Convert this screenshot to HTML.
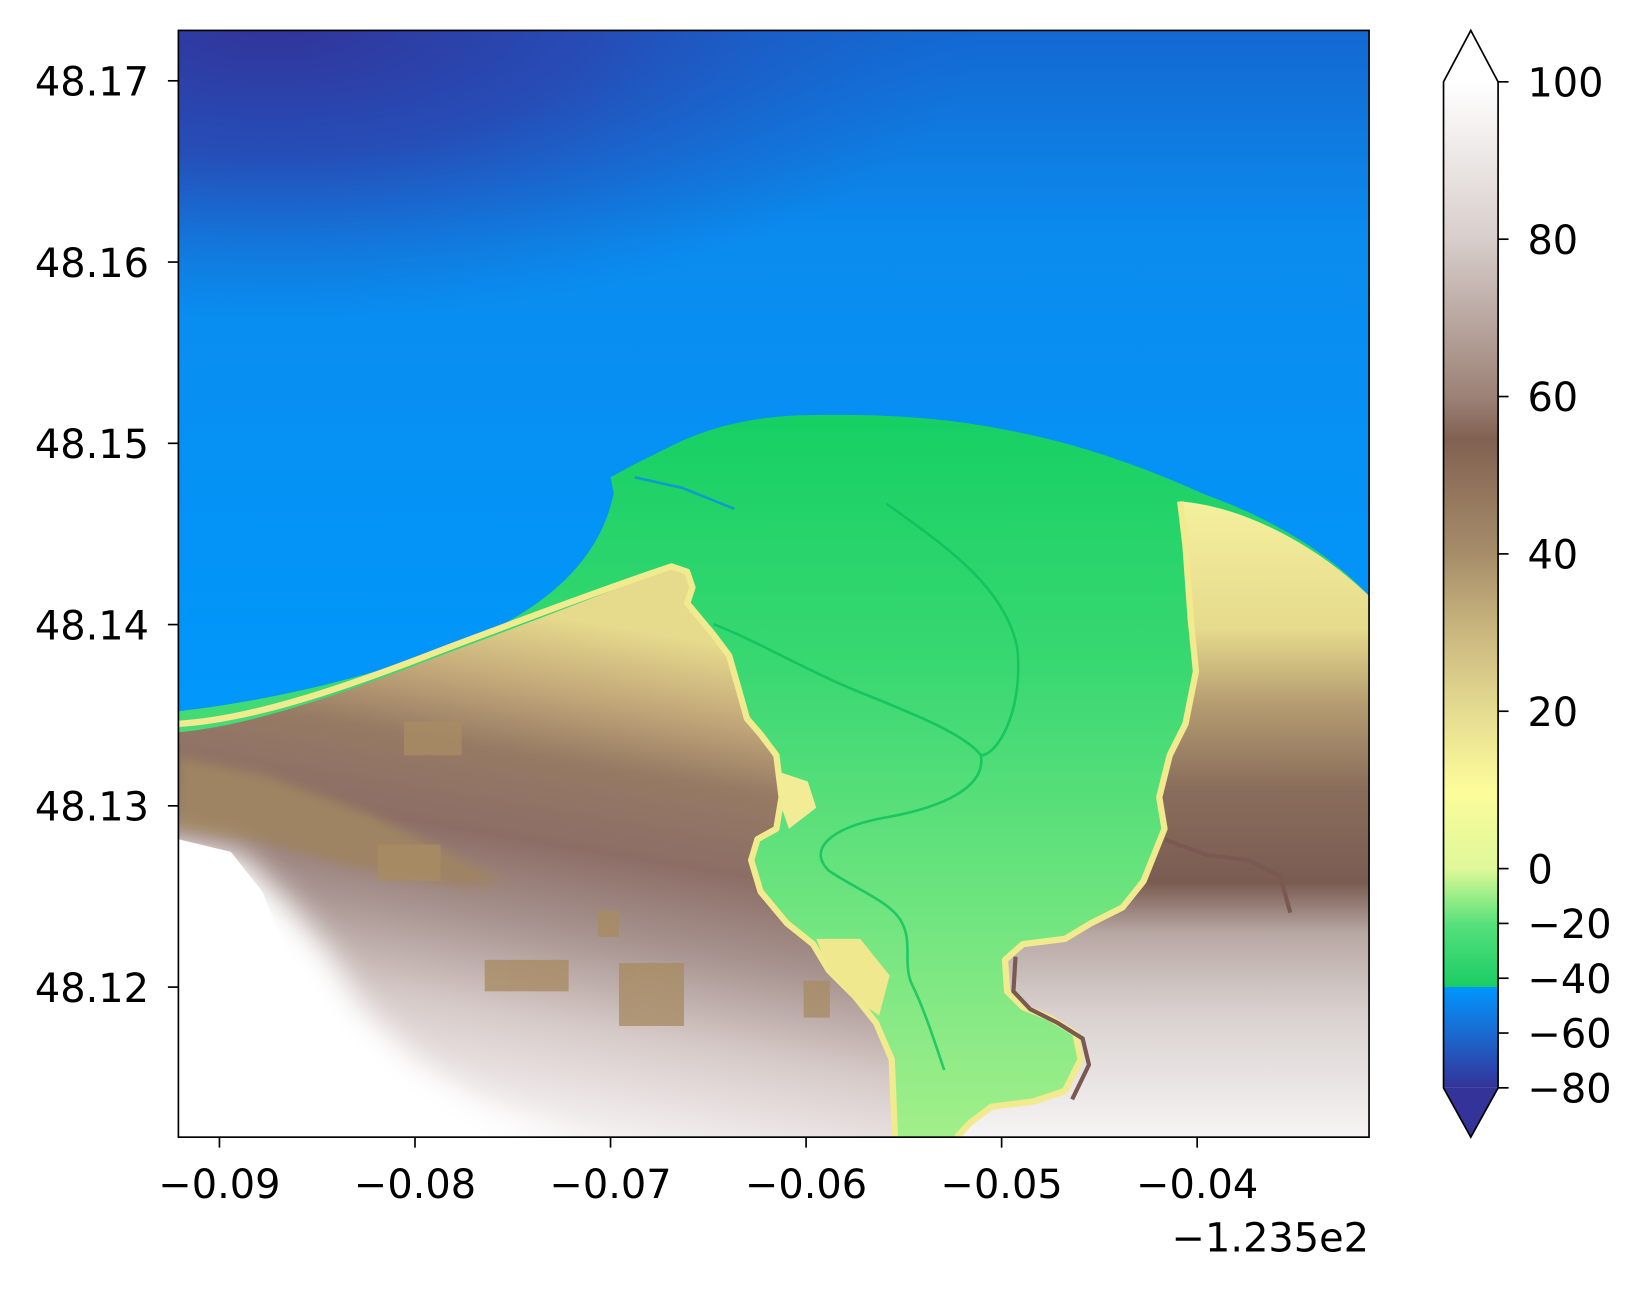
<!DOCTYPE html>
<html><head><meta charset="utf-8">
<style>
html,body{margin:0;padding:0;background:#fff;}
svg{display:block;font-family:"DejaVu Sans","Liberation Sans",sans-serif;}
</style></head>
<body>
<svg id="chart" width="1645" height="1290" viewBox="0 0 1568 1229.7" xmlns="http://www.w3.org/2000/svg">
<defs>
  <clipPath id="plotclip"><rect x="170" y="29" width="1135" height="1055"/></clipPath>
  <filter id="blur20" x="-20%" y="-20%" width="140%" height="140%"><feGaussianBlur stdDeviation="14"/></filter>
  <filter id="blur5" x="-20%" y="-20%" width="140%" height="140%"><feGaussianBlur stdDeviation="5"/></filter>
  <linearGradient id="waterV" x1="0" y1="29" x2="0" y2="700" gradientUnits="userSpaceOnUse">
    <stop offset="0" stop-color="#1468d2"/>
    <stop offset="0.3" stop-color="#0a8cee"/>
    <stop offset="1" stop-color="#0098fc"/>
  </linearGradient>
  <radialGradient id="waterDark" cx="260" cy="20" r="520" gradientUnits="userSpaceOnUse" gradientTransform="translate(260 20) scale(1.3 0.55) translate(-260 -20)">
    <stop offset="0" stop-color="#323399" stop-opacity="1"/>
    <stop offset="0.45" stop-color="#2a46b0" stop-opacity="0.85"/>
    <stop offset="1" stop-color="#1a60c8" stop-opacity="0"/>
  </radialGradient>
  <linearGradient id="greenG" x1="0" y1="400" x2="0" y2="1084" gradientUnits="userSpaceOnUse">
    <stop offset="0" stop-color="#16d064"/>
    <stop offset="0.35" stop-color="#3ad872"/>
    <stop offset="0.7" stop-color="#72e580"/>
    <stop offset="1" stop-color="#a2ef8a"/>
  </linearGradient>
  <linearGradient id="landL" x1="540" y1="590" x2="460" y2="1060" gradientUnits="userSpaceOnUse">
    <stop offset="0" stop-color="#e6da8c"/>
    <stop offset="0.14" stop-color="#c4aa7a"/>
    <stop offset="0.28" stop-color="#967a64"/>
    <stop offset="0.45" stop-color="#8c6e66"/>
    <stop offset="0.62" stop-color="#a89490"/>
    <stop offset="0.8" stop-color="#d6cac8"/>
    <stop offset="1" stop-color="#f4f0f0"/>
  </linearGradient>
  <linearGradient id="landR" x1="0" y1="478" x2="0" y2="1084" gradientUnits="userSpaceOnUse">
    <stop offset="0" stop-color="#f4f09e"/>
    <stop offset="0.2" stop-color="#e6da8c"/>
    <stop offset="0.32" stop-color="#b49c70"/>
    <stop offset="0.45" stop-color="#8a6e5c"/>
    <stop offset="0.6" stop-color="#7a5c52"/>
    <stop offset="0.68" stop-color="#b8a8a4"/>
    <stop offset="0.8" stop-color="#d8d0ce"/>
    <stop offset="1" stop-color="#f6f4f4"/>
  </linearGradient>
  <linearGradient id="cbarG" x1="0" y1="78" x2="0" y2="1037" gradientUnits="userSpaceOnUse">
    <stop offset="0" stop-color="#ffffff"/>
    <stop offset="0.156" stop-color="#d8cecb"/>
    <stop offset="0.313" stop-color="#9c8277"/>
    <stop offset="0.355" stop-color="#816152"/>
    <stop offset="0.469" stop-color="#a68d69"/>
    <stop offset="0.545" stop-color="#c9b67e"/>
    <stop offset="0.625" stop-color="#e5db91"/>
    <stop offset="0.704" stop-color="#fcfc9a"/>
    <stop offset="0.782" stop-color="#dff89a"/>
    <stop offset="0.81" stop-color="#99ee88"/>
    <stop offset="0.838" stop-color="#55e07a"/>
    <stop offset="0.9" stop-color="#1acc66"/>
    <stop offset="0.9" stop-color="#0096ff"/>
    <stop offset="0.95" stop-color="#1c66cc"/>
    <stop offset="1" stop-color="#333399"/>
  </linearGradient>
</defs>

<g clip-path="url(#plotclip)">
  <rect x="170" y="29" width="1135" height="1055" fill="url(#waterV)"/>
  <rect x="170" y="29" width="1135" height="500" fill="url(#waterDark)"/>
  <path fill="url(#greenG)"
    d="M170,678 C260,668 380,640 470,600 C540,565 575,520 585,470 L582,455 L600,445 L640,425 C680,405 720,398 760,396 C840,394 900,398 960,410 C1040,425 1100,450 1150,472 C1200,490 1260,520 1305,568 L1305,1084 L170,1084 Z"/>
  <path fill="url(#landL)"
    d="M170,698 C240,692 330,660 420,625 C500,595 580,565 640,540 L655,545 L660,560 L655,575 L680,605 L695,625 L705,660 L712,685 L725,700 L740,720 L745,760 L740,790 L722,800 L716,820 L725,850 L750,880 L775,900 L790,925 L815,950 L835,975 L850,1010 L853,1084 L170,1084 Z"/>
  <path fill="#9e8462" filter="url(#blur5)"
    d="M170,722 L250,738 L350,775 L430,815 L480,840 L440,845 L330,825 L250,802 L170,792 Z"/>
  <path fill="#ffffff" filter="url(#blur20)"
    d="M150,800 L229,815 L276,862 L315,910 L343,958 L400,1015 L458,1052 L575,1100 L150,1100 Z"/>
  <path fill="#ffffff"
    d="M170,800 L220,812 L250,850 L270,900 L300,950 L340,1000 L400,1050 L470,1084 L170,1084 Z"/>
  <path fill="none" stroke="#f2ea8e" stroke-width="6" stroke-linejoin="round"
    d="M170,690 C240,686 330,655 420,620 C500,590 580,560 640,540 L655,545 L660,560 L655,575 L680,605 L695,625 L705,660 L712,685 L725,700 L740,720 L745,760 L740,790 L722,800 L716,820 L725,850 L750,880 L775,900 L790,925 L815,950 L835,975 L850,1010 L853,1084"/>
  <path fill="#f2ec96" d="M740,735 L770,745 L778,770 L752,790 L745,770 Z"/>
  <path fill="#f0e88e" d="M778,895 L820,895 L848,930 L838,968 L812,950 L790,925 Z"/>
  <path fill="url(#landR)"
    d="M1125,478 C1180,482 1250,515 1305,568 L1305,1084 L912,1084 L925,1070 L945,1055 L985,1050 L1015,1040 L1030,1010 L1025,985 L1000,970 L975,960 L960,945 L958,915 L975,900 L1015,895 L1040,880 L1070,865 L1090,840 L1100,815 L1110,790 L1105,760 L1115,720 L1130,690 L1140,640 L1135,590 L1130,520 Z"/>
  <path fill="none" stroke="#f2ea8e" stroke-width="6" stroke-linejoin="round"
    d="M1125,478 L1130,520 L1135,590 L1140,640 L1130,690 L1115,720 L1105,760 L1110,790 L1100,815 L1090,840 L1070,865 L1040,880 L1015,895 L975,900 L958,915 L960,945 L975,960 L1000,970 L1025,985 L1030,1010 L1015,1040 L985,1050 L945,1055 L925,1070 L912,1084"/>
  <path fill="none" stroke="#7a5a50" stroke-width="4"
    d="M968,912 L966,945 L982,962 L1008,975 L1032,990 L1038,1015 L1022,1048 M1110,800 L1150,815 L1190,820 L1220,835 L1230,870"/>
  <g fill="#a88c64" opacity="0.8">
    <rect x="385" y="688" width="55" height="32"/>
    <rect x="360" y="805" width="60" height="35"/>
    <rect x="462" y="915" width="80" height="30"/>
    <rect x="570" y="868" width="20" height="25"/>
    <rect x="590" y="918" width="62" height="60"/>
    <rect x="766" y="935" width="25" height="35"/>
  </g>
  <g fill="none" stroke="#0cc05c" stroke-width="2.5" opacity="0.8">
    <path d="M680,595 C720,610 770,640 820,660 C870,680 920,700 935,720 C940,750 900,770 840,780 C790,790 770,810 790,830 C820,850 850,860 860,880 C870,900 860,920 870,940 C880,960 890,990 900,1020"/>
    <path d="M845,480 C900,520 960,560 970,620 C975,680 950,720 935,720"/>
    <path d="M605,455 L650,465 L700,485" stroke="#0a90e0"/>
  </g>
</g>
<rect x="170" y="29" width="1135" height="1055" fill="none" stroke="#000" stroke-width="1.6"/>
<g id="xaxis"></g>
<g id="yaxis"></g>
<text x="1305" y="1193" font-size="38" text-anchor="end">−1.235e2</text>

<g>
  <path d="M1376,78 L1402,29 L1428,78 Z" fill="#ffffff"/>
  <rect x="1376" y="78" width="52" height="959" fill="url(#cbarG)"/>
  <path d="M1376,1037 L1402,1084 L1428,1037 Z" fill="#333399"/>
  <path d="M1376,78 L1402,29 L1428,78 L1428,1037 L1402,1084 L1376,1037 Z" fill="none" stroke="#000" stroke-width="1.6"/>
  <g id="cbticks"></g>
</g>
</svg>
<script>
const xTicks = [-0.09, -0.08, -0.07, -0.06, -0.05, -0.04];
const xTickLabels = ["−0.09", "−0.08", "−0.07", "−0.06", "−0.05", "−0.04"];
const yTicks = [48.12, 48.13, 48.14, 48.15, 48.16, 48.17];
const yTickLabels = ["48.12", "48.13", "48.14", "48.15", "48.16", "48.17"];
const cbValues = [100, 80, 60, 40, 20, 0, -20, -40, -60, -80];
const cbLabels = ["100", "80", "60", "40", "20", "0", "−20", "−40", "−60", "−80"];
const X0 = 170, X1 = 1305, Y0 = 29, Y1 = 1084;
const xMin = -0.0921, xMax = -0.03121, yMin = 48.11172, yMax = 48.17278;
function xPx(v){ return X0 + (v - xMin) / (xMax - xMin) * (X1 - X0); }
function yPx(v){ return Y1 - (v - yMin) / (yMax - yMin) * (Y1 - Y0); }
function cbPx(v){ return v >= 0 ? 828 - v / 100 * 750 : 828 - v / 80 * 209; }
const NS = "http://www.w3.org/2000/svg";
function mk(tag, attrs, parent){ const e = document.createElementNS(NS, tag); for (const k in attrs) e.setAttribute(k, attrs[k]); parent.appendChild(e); return e; }
const FS = 38;
const xa = document.getElementById('xaxis');
xTicks.forEach((v, i) => {
  const x = xPx(v);
  const t = mk('line', {x1:x, x2:x, y1:Y1, y2:Y1+10, stroke:'#000', 'stroke-width':1.6}, xa);
  
  
  const l = mk('text', {x:x, y:Y1+58, 'font-size':FS, 'text-anchor':'middle'}, xa);
  l.textContent = xTickLabels[i];
  
  
});
const ya = document.getElementById('yaxis');
yTicks.forEach((v, i) => {
  const y = yPx(v);
  const t = mk('line', {x1:X0-10, x2:X0, y1:y, y2:y, stroke:'#000', 'stroke-width':1.6}, ya);
  
  
  const l = mk('text', {x:X0-28, y:y+14, 'font-size':FS, 'text-anchor':'end'}, ya);
  l.textContent = yTickLabels[i];
  
  
});
const cb = document.getElementById('cbticks');
cbValues.forEach((v, i) => {
  const y = cbPx(v);
  const t = mk('line', {x1:1428, x2:1438, y1:y, y2:y, stroke:'#000', 'stroke-width':1.6}, cb);
  
  
  const l = mk('text', {x:1456, y:y+14, 'font-size':FS}, cb);
  l.textContent = cbLabels[i];
  
  
});
</script>
</body></html>
